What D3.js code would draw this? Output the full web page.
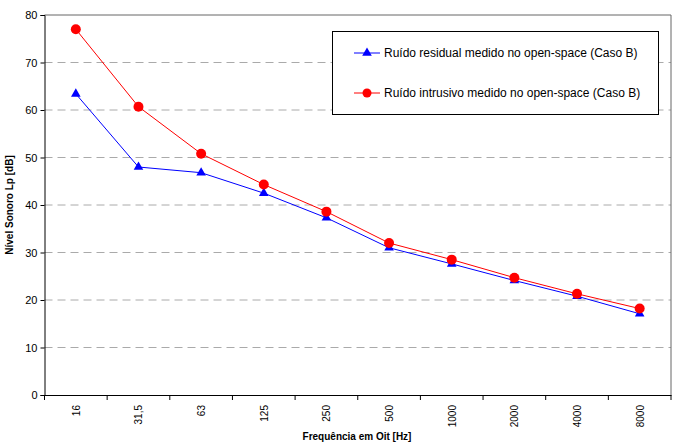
<!DOCTYPE html>
<html><head><meta charset="utf-8">
<script src="https://cdn.jsdelivr.net/npm/d3@7"></script>
<style>body{margin:0;background:#fff}text{font-family:"Liberation Sans",Arial,sans-serif}</style>
</head><body><svg id="c" width="684" height="445"></svg>
<script>
const categories = ["16","31,5","63","125","250","500","1000","2000","4000","8000"];
const residual = [63.4,48.0,46.8,42.5,37.3,31.0,27.6,24.1,20.8,17.1];
const intrusive = [77.0,60.7,50.8,44.3,38.6,32.0,28.5,24.7,21.3,18.2];
const yTicks = [0,10,20,30,40,50,60,70,80];
const seriesNames = ["Ruído residual medido no open-space (Caso B)","Ruído intrusivo medido no open-space (Caso B)"];

const svg = d3.select("#c");
const L=44.5, R=671, T=15, B=395;
const x = d3.scaleBand().domain(categories).range([L,R]);
const y = d3.scaleLinear().domain([0,80]).range([B,T]);

// grid
svg.append("g").selectAll("line").data(yTicks.filter(d=>d>0&&d<80)).join("line")
  .attr("x1",L).attr("x2",R).attr("y1",d=>y(d)).attr("y2",d=>y(d))
  .attr("stroke","#aaa").attr("stroke-dasharray","8,5").attr("stroke-width",1);
// top and right border
svg.append("line").attr("x1",L).attr("x2",R).attr("y1",y(80)).attr("y2",y(80)).attr("stroke","#666");
svg.append("line").attr("x1",R).attr("x2",R).attr("y1",T).attr("y2",B).attr("stroke","#666");

// y axis
const ya = svg.append("g").attr("transform",`translate(${L},0)`)
  .call(d3.axisLeft(y).tickValues(yTicks).tickSize(4).tickPadding(3));
ya.select(".domain").attr("stroke","#000");
ya.selectAll("text").attr("font-size",11).attr("fill","#000").attr("font-family","Liberation Sans, Arial, sans-serif");

// x axis
const xa = svg.append("g").attr("transform",`translate(0,${B})`)
  .call(d3.axisBottom(x).tickSize(0).tickFormat(""));
xa.select(".domain").attr("stroke","#000");
svg.append("g").selectAll("line").data(d3.range(categories.length+1)).join("line")
  .attr("x1",i=>L+i*x.step()).attr("x2",i=>L+i*x.step()).attr("y1",B).attr("y2",B+5).attr("stroke","#000");
svg.append("g").selectAll("text").data(categories).join("text")
  .attr("transform",d=>`translate(${x(d)+x.bandwidth()/2+4},${B+10}) rotate(-90)`)
  .attr("text-anchor","end").attr("font-size",10).text(d=>d);

const cx = d => x(d)+x.bandwidth()/2;
const line = d3.line().x((d,i)=>cx(categories[i])).y(d=>y(d));

svg.append("path").datum(residual).attr("d",line).attr("fill","none").attr("stroke","#0000ff").attr("stroke-width",1);
svg.append("path").datum(intrusive).attr("d",line).attr("fill","none").attr("stroke","#ff0000").attr("stroke-width",1);

const tri = d3.symbol().type(d3.symbolTriangle).size(40);
svg.append("g").selectAll("path").data(residual).join("path")
  .attr("d",tri).attr("transform",(d,i)=>`translate(${cx(categories[i])},${y(d)})`).attr("fill","#0000ff");
svg.append("g").selectAll("circle").data(intrusive).join("circle")
  .attr("cx",(d,i)=>cx(categories[i])).attr("cy",d=>y(d)).attr("r",5).attr("fill","#ff0000");

// legend
const lg = svg.append("g");
lg.append("rect").attr("x",332.5).attr("y",31.5).attr("width",326).attr("height",83).attr("fill","#fff").attr("stroke","#000");
const rows=[{c:"#0000ff",t:"tri",yy:53},{c:"#ff0000",t:"circ",yy:93}];
rows.forEach((r,i)=>{
  lg.append("line").attr("x1",354).attr("x2",380).attr("y1",r.yy).attr("y2",r.yy).attr("stroke",r.c);
  if(r.t==="tri") lg.append("path").attr("d",tri).attr("transform",`translate(367,${r.yy})`).attr("fill",r.c);
  else lg.append("circle").attr("cx",367).attr("cy",r.yy).attr("r",4.5).attr("fill",r.c);
  lg.append("text").attr("x",384).attr("y",r.yy+4).attr("font-size",12).text(seriesNames[i]);
});

// titles
svg.append("text").attr("transform",`translate(13,205) rotate(-90)`).attr("text-anchor","middle")
  .attr("font-size",10).attr("font-weight","bold").text("Nível Sonoro Lp [dB]");
svg.append("text").attr("x",357).attr("y",440).attr("text-anchor","middle")
  .attr("font-size",10).attr("font-weight","bold").text("Frequência em Oit [Hz]");
</script></body></html>
